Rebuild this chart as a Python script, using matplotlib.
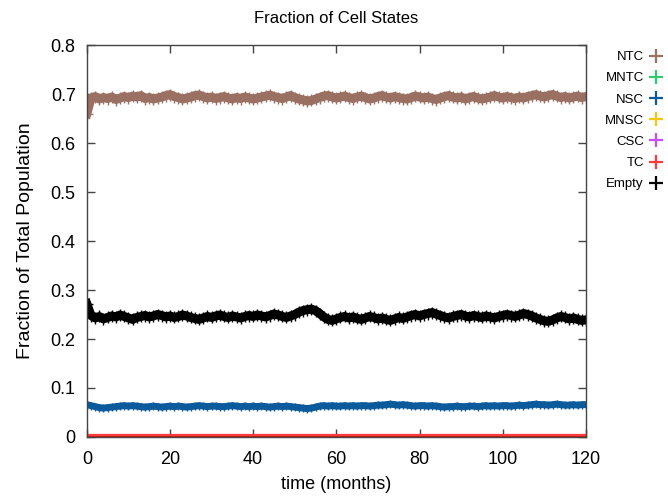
import matplotlib
matplotlib.use("Agg")
import matplotlib.pyplot as plt
from matplotlib.lines import Line2D

plt.rcParams['font.family'] = ['Liberation Sans', 'DejaVu Sans']

months = list(range(121))

ntc = [0.660,
       0.692, 0.695, 0.690, 0.693, 0.691, 0.694, 0.689, 0.692, 0.695, 0.693,
       0.696, 0.694, 0.697, 0.691, 0.693, 0.690, 0.692, 0.694, 0.697, 0.699,
       0.695, 0.693, 0.690, 0.692, 0.694, 0.697, 0.698, 0.695, 0.692, 0.694,
       0.691, 0.693, 0.695, 0.692, 0.690, 0.693, 0.691, 0.694, 0.692, 0.690,
       0.692, 0.694, 0.696, 0.698, 0.695, 0.693, 0.691, 0.694, 0.697, 0.693,
       0.690, 0.688, 0.686, 0.687, 0.690, 0.693, 0.696, 0.697, 0.694, 0.692,
       0.694, 0.696, 0.693, 0.691, 0.694, 0.696, 0.693, 0.690, 0.692, 0.695,
       0.697, 0.694, 0.692, 0.695, 0.693, 0.691, 0.690, 0.693, 0.696, 0.694,
       0.692, 0.694, 0.691, 0.689, 0.692, 0.695, 0.697, 0.694, 0.692, 0.694,
       0.690, 0.693, 0.695, 0.692, 0.690, 0.692, 0.694, 0.697, 0.694, 0.692,
       0.695, 0.693, 0.691, 0.694, 0.692, 0.695, 0.697, 0.699, 0.696, 0.694,
       0.697, 0.699, 0.696, 0.693, 0.695, 0.692, 0.694, 0.696, 0.693, 0.695]

empty = [0.272,
         0.248, 0.243, 0.246, 0.241, 0.244, 0.247, 0.245, 0.249, 0.246, 0.243,
         0.240, 0.244, 0.246, 0.248, 0.245, 0.247, 0.250, 0.248, 0.245, 0.247,
         0.244, 0.246, 0.249, 0.247, 0.244, 0.242, 0.240, 0.243, 0.246, 0.244,
         0.247, 0.249, 0.246, 0.244, 0.247, 0.245, 0.243, 0.246, 0.248, 0.246,
         0.249, 0.247, 0.245, 0.248, 0.251, 0.249, 0.246, 0.244, 0.247, 0.250,
         0.255, 0.258, 0.260, 0.261, 0.258, 0.252, 0.245, 0.240, 0.238, 0.241,
         0.244, 0.246, 0.243, 0.245, 0.242, 0.240, 0.243, 0.246, 0.244, 0.241,
         0.243, 0.240, 0.238, 0.241, 0.244, 0.242, 0.245, 0.248, 0.250, 0.247,
         0.250, 0.252, 0.254, 0.251, 0.248, 0.245, 0.243, 0.246, 0.248, 0.250,
         0.247, 0.245, 0.248, 0.246, 0.244, 0.247, 0.245, 0.243, 0.246, 0.248,
         0.250, 0.248, 0.246, 0.249, 0.252, 0.250, 0.247, 0.243, 0.240, 0.237,
         0.236, 0.239, 0.243, 0.246, 0.244, 0.241, 0.243, 0.240, 0.238, 0.239]

nsc = [0.066,
       0.064, 0.062, 0.060, 0.059, 0.060, 0.061, 0.062, 0.063, 0.064, 0.063,
       0.064, 0.063, 0.062, 0.061, 0.062, 0.063, 0.062, 0.061, 0.062, 0.063,
       0.062, 0.063, 0.062, 0.061, 0.062, 0.063, 0.064, 0.063, 0.062, 0.063,
       0.063, 0.062, 0.062, 0.063, 0.064, 0.063, 0.062, 0.063, 0.062, 0.063,
       0.062, 0.063, 0.062, 0.061, 0.062, 0.063, 0.062, 0.063, 0.062, 0.061,
       0.060, 0.059, 0.058, 0.059, 0.061, 0.063, 0.064, 0.063, 0.064, 0.063,
       0.063, 0.064, 0.063, 0.064, 0.063, 0.064, 0.064, 0.063, 0.064, 0.065,
       0.065, 0.066, 0.067, 0.066, 0.065, 0.066, 0.065, 0.064, 0.063, 0.064,
       0.064, 0.063, 0.064, 0.063, 0.062, 0.061, 0.062, 0.062, 0.063, 0.062,
       0.062, 0.063, 0.063, 0.062, 0.063, 0.064, 0.063, 0.064, 0.063, 0.064,
       0.064, 0.063, 0.064, 0.065, 0.064, 0.065, 0.066, 0.067, 0.066, 0.066,
       0.065, 0.066, 0.067, 0.066, 0.065, 0.065, 0.066, 0.065, 0.066, 0.066]

# these states stay at zero the whole run
mntc = [0.0] * 121
mnsc = [0.0] * 121
csc = [0.0] * 121
tc = [0.0] * 121

labels = ['NTC', 'MNTC', 'NSC', 'MNSC', 'CSC', 'TC', 'Empty']
series = [ntc, mntc, nsc, mnsc, csc, tc, empty]
colors = ['#9a7062', '#2ecc71', '#0b5a9c', '#f5c710', '#c74cff', '#ff3b3b', '#000000']

fig = plt.figure(figsize=(6.68, 4.96), dpi=100)
ax = fig.add_axes([0.130, 0.119, 0.747, 0.790])

for s, c in zip(series, colors):
    if s is tc:
        ax.plot(months, s, color=c, lw=4.5)
        ax.plot(months, s, color='#d01010', lw=1.2)
    elif s is nsc:
        ax.plot(months, s, color=c, lw=5, marker='+', ms=6, mew=1)
    elif s in (mntc, mnsc, csc):
        ax.plot(months, s, color=c, lw=3)
    else:
        ax.plot(months, s, color=c, lw=6.5, marker='+', ms=8, mew=1)

ax.set_xlim(0, 120)
ax.set_ylim(0, 0.8)
ax.set_xticks([0, 20, 40, 60, 80, 100, 120])
ax.set_yticks([0, 0.1, 0.2, 0.3, 0.4, 0.5, 0.6, 0.7, 0.8])
ax.set_yticklabels(['0', '0.1', '0.2', '0.3', '0.4', '0.5', '0.6', '0.7', '0.8'])
ax.tick_params(direction='in', length=6, width=1, top=True, right=True,
               labelsize=13, color='#444444')
ax.tick_params(axis='x', pad=10)
ax.tick_params(axis='y', pad=8)
for sp in ax.spines.values():
    sp.set_color('#444444')
    sp.set_linewidth(1)

ax.set_title('Fraction of Cell States', fontsize=12, pad=16)
ax.set_xlabel('time (months)', fontsize=13, labelpad=6)
ax.set_ylabel('Fraction of Total Population', fontsize=14, labelpad=12)

handles = [Line2D([], [], color=c, marker='+', ls='none', ms=10, mew=1.6) for c in colors]
fig.legend(handles, labels, loc='upper right', bbox_to_anchor=(663 / 668, 445 / 496),
           frameon=False, markerfirst=False, fontsize=9.5, borderpad=0, borderaxespad=0,
           handlelength=1.0, handletextpad=0.45, labelspacing=0.68)

fig.savefig('out.png', dpi=100)
